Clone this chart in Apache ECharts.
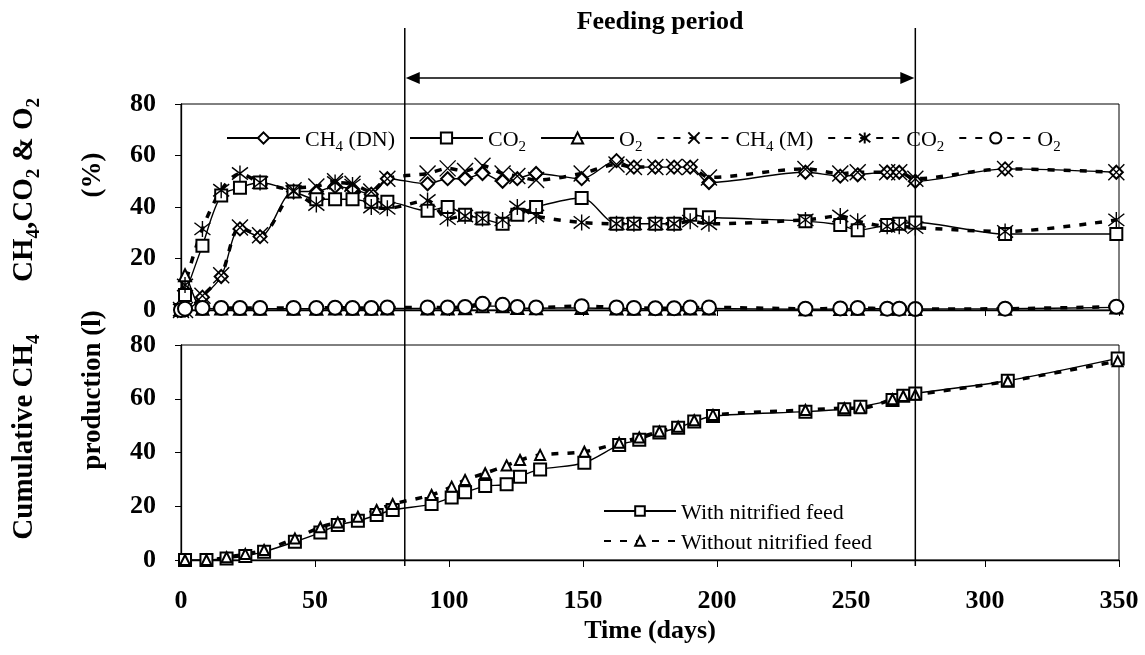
<!DOCTYPE html>
<html><head><meta charset="utf-8">
<script src="https://cdn.jsdelivr.net/npm/echarts@6/dist/echarts.min.js"></script>
<style>html,body{margin:0;padding:0;background:#fff}#c{width:1145px;height:655px}</style>
</head><body><div id="c"></div>
<script>
// ---------- data ----------
const xTickLabels = [0, 50, 100, 150, 200, 250, 300, 350];
const yTickLabels = [0, 20, 40, 60, 80];
const feedStart = 83.5, feedEnd = 274;

const daysTop = [0, 1.5, 8, 15, 22, 29.5, 42, 50.5, 57.5, 64, 71, 77, 92, 99.5, 106, 112.5, 120, 125.5, 132.5, 149.5, 162.5, 169, 177, 184, 190, 197, 233, 246, 252.5, 263.5, 268, 274, 307.5, 349];
const ch4DN = [0, 0, 5, 13, 31.5, 28.5, 46, 46, 48, 47, 45, 51, 49, 51, 51, 53, 50, 51, 53, 51, 58, 55.5, 55.5, 55.5, 55.5, 49.5, 53.5, 52, 52.5, 53.5, 53.5, 50, 54.8, 53.5];
const co2DN = [0, 5.8, 25, 44.5, 47.5, 49.5, 46, 43, 43, 43, 42, 42, 38.5, 40, 37, 35.5, 33.5, 37, 40, 43.5, 33.5, 33.5, 33.5, 33.5, 37, 36, 34.5, 33, 31, 33, 33.5, 34, 29.5, 29.5];
const o2DN  = [0, 13.5, 0.5, 0.6, 0.5, 0.5, 0.5, 0.5, 0.6, 0.5, 0.5, 0.6, 0.6, 0.6, 0.7, 1.5, 1.5, 0.8, 0.7, 0.8, 0.6, 0.5, 0.5, 0.5, 0.6, 0.6, 0.3, 0.4, 0.5, 0.5, 0.5, 0.4, 0.5, 1.0];
const ch4M  = [0, 0, 5.5, 13.5, 32, 29, 46.5, 48, 50, 49, 46, 51, 53, 55, 54, 56, 53, 52, 50.5, 53, 56.5, 55.5, 55.5, 55.5, 55.5, 51.5, 54.8, 53, 53.5, 53.5, 53.5, 51, 54.8, 53.5];
const co2M  = [0, 9.7, 31.5, 46.5, 53, 49.5, 46, 41, 49.5, 48.5, 40, 39.5, 42.5, 35.5, 36.5, 35.5, 35, 40, 36.5, 34, 33.5, 33.5, 33.5, 33.5, 34.5, 33.5, 35, 36.5, 34.5, 32.5, 32.5, 32, 30.5, 35];
const o2M   = [0, 0.5, 0.8, 0.8, 0.8, 0.8, 0.8, 0.8, 0.9, 0.8, 0.8, 1.0, 1.0, 1.0, 1.2, 2.4, 2.0, 1.2, 1.0, 1.5, 1.0, 0.8, 0.7, 0.7, 1.0, 1.0, 0.5, 0.6, 0.8, 0.5, 0.5, 0.4, 0.5, 1.3];

const daysCum = [1.5, 9.5, 17, 24, 31, 42.5, 52, 58.5, 66, 73, 79, 93.5, 101, 106, 113.5, 121.5, 126.5, 134, 150.5, 163.5, 171, 178.5, 185.5, 191.5, 198.5, 233, 247.5, 253.5, 265.5, 269.5, 274, 308.5, 349.5];
const cumWith    = [0, 0, 0.6, 1.5, 3.1, 6.8, 10.2, 13, 14.6, 16.7, 18.6, 20.8, 23.3, 25.2, 27.5, 28.2, 31, 33.7, 36.2, 42.8, 44.7, 47.4, 49.2, 51.5, 53.6, 55.2, 56.1, 57, 59.5, 61.1, 62, 66.7, 75];
const cumWithout = [0, 0, 1, 2.2, 3.7, 8, 12.2, 14, 16.1, 18.6, 20.8, 24.2, 27.3, 29.8, 32.3, 35.2, 37.2, 39.1, 40.3, 43.6, 45.6, 47.8, 49.6, 52, 54, 55.8, 56.5, 56.5, 59.8, 61, 61.5, 66.5, 74];

// ---------- helpers ----------
const FONT = 'Liberation Serif';
const zip = (xs, ys) => xs.map((x, i) => [x, ys[i]]);
const SYM_X = 'path://M0,0L10,10M10,0L0,10';
const SYM_AST = 'path://M0,0L10,10M10,0L0,10M5,-1.5L5,11.5';
const DASH = [7, 9];

function lineSeries(name, xi, data, symbol, size, dashed) {
  return {
    name, type: 'line', xAxisIndex: xi, yAxisIndex: xi, data,
    smooth: 0.3, symbol, symbolSize: size, showAllSymbol: true,
    lineStyle: { color: '#000', width: dashed ? 3.5 : 1.4, type: dashed ? DASH : 'solid' },
    itemStyle: { color: '#000', borderColor: '#000', borderWidth: 1.4 },
    emphasis: { disabled: true }
  };
}

const richLegend = {
  n: { fontFamily: FONT, fontSize: 22, color: '#000', lineHeight: 26, verticalAlign: 'bottom' },
  s: { fontFamily: FONT, fontSize: 15, color: '#000', lineHeight: 26, verticalAlign: 'bottom', padding: [0, 0, -4, 0] }
};
const legendFmt = {
  'CH4 (DN)': '{n|CH}{s|4}{n| (DN)}',
  'CO2 (DN)': '{n|CO}{s|2}',
  'O2 (DN)':  '{n|O}{s|2}',
  'CH4 (M)':  '{n|CH}{s|4}{n| (M)}',
  'CO2 (M)':  '{n|CO}{s|2}',
  'O2 (M)':   '{n|O}{s|2}',
  'With nitrified feed': '{n|With nitrified feed}',
  'Without nitrified feed': '{n|Without nitrified feed}'
};

const axisLabelStyle = { fontFamily: FONT, fontWeight: 'bold', fontSize: 26, color: '#000' };

const chart = echarts.init(document.getElementById('c'), null, { renderer: 'canvas' });

const option = {
  animation: false,
  backgroundColor: '#fff',
  grid: [
    { left: 181, top: 104, width: 938, height: 206, show: true, borderColor: '#000', borderWidth: 1 },
    { left: 181, top: 345, width: 938, height: 215, show: true, borderColor: '#000', borderWidth: 1 }
  ],
  xAxis: [
    { gridIndex: 0, type: 'value', min: 0, max: 350, interval: 50,
      axisLine: { show: true, onZero: false, lineStyle: { color: '#000', width: 1.3 } },
      axisTick: { show: true, length: 6, lineStyle: { color: '#000' } },
      axisLabel: { show: false }, splitLine: { show: false } },
    { gridIndex: 1, type: 'value', min: 0, max: 350, interval: 50,
      axisLine: { show: true, onZero: false, lineStyle: { color: '#000', width: 1.3 } },
      axisTick: { show: true, length: 7, lineStyle: { color: '#000' } },
      axisLabel: Object.assign({ margin: 28, formatter: v => xTickLabels.includes(v) ? String(v) : '' }, axisLabelStyle),
      splitLine: { show: false },
      name: 'Time (days)', nameLocation: 'middle', nameGap: 58,
      nameTextStyle: { fontFamily: FONT, fontWeight: 'bold', fontSize: 26, color: '#000' } }
  ],
  yAxis: [0, 1].map(i => ({
    gridIndex: i, type: 'value', min: 0, max: 80, interval: 20,
    axisLine: { show: true, lineStyle: { color: '#000', width: 1.3 } },
    axisTick: { show: true, length: 6, lineStyle: { color: '#000' } },
    axisLabel: Object.assign({ margin: 25, formatter: v => yTickLabels.includes(v) ? String(v) : '' }, axisLabelStyle),
    splitLine: { show: false }
  })),
  legend: [
    { data: ['CH4 (DN)', 'CO2 (DN)', 'O2 (DN)', 'CH4 (M)', 'CO2 (M)', 'O2 (M)'],
      left: 221, top: 124, orient: 'horizontal', itemWidth: 73, itemHeight: 14, itemGap: 14,
      formatter: n => legendFmt[n], textStyle: { rich: richLegend, color: '#000' }, selectedMode: false },
    { data: ['With nitrified feed', 'Without nitrified feed'],
      left: 598, top: 497, orient: 'vertical', itemWidth: 72, itemHeight: 12, itemGap: 8,
      formatter: n => legendFmt[n], textStyle: { rich: richLegend, color: '#000' }, selectedMode: false }
  ],
  series: [
    lineSeries('CH4 (DN)', 0, zip(daysTop, ch4DN), 'emptyDiamond', 13, false),
    lineSeries('CO2 (DN)', 0, zip(daysTop, co2DN), 'emptyRect', 12, false),
    lineSeries('O2 (DN)', 0, zip(daysTop, o2DN), 'emptyTriangle', 12, false),
    lineSeries('CH4 (M)', 0, zip(daysTop, ch4M), SYM_X, 16, true),
    lineSeries('CO2 (M)', 0, zip(daysTop, co2M), SYM_AST, 16, true),
    lineSeries('O2 (M)', 0, zip(daysTop, o2M), 'emptyCircle', 14, true),
    lineSeries('With nitrified feed', 1, zip(daysCum, cumWith), 'emptyRect', 12, false),
    lineSeries('Without nitrified feed', 1, zip(daysCum, cumWithout), 'emptyTriangle', 10, true)
  ]
};
chart.setOption(option);

// feeding period markers positioned from the x scale
const xs = chart.convertToPixel({ xAxisIndex: 1 }, feedStart);
const xe = chart.convertToPixel({ xAxisIndex: 1 }, feedEnd);
const yArrow = 78, ah = 14, aw = 6;
const richTitle = {
  b: { fontFamily: FONT, fontWeight: 'bold', fontSize: 29, fill: '#000', lineHeight: 34, verticalAlign: 'bottom' },
  s: { fontFamily: FONT, fontWeight: 'bold', fontSize: 19, fill: '#000', lineHeight: 34, verticalAlign: 'bottom', padding: [0, 0, -5, 0] }
};
chart.setOption({
  graphic: [
    { type: 'line', z: 100, shape: { x1: xs, y1: 28, x2: xs, y2: 566 }, style: { stroke: '#000', lineWidth: 1.5 } },
    { type: 'line', z: 100, shape: { x1: xe, y1: 28, x2: xe, y2: 566 }, style: { stroke: '#000', lineWidth: 1.5 } },
    { type: 'line', z: 100, shape: { x1: xs + ah, y1: yArrow, x2: xe - ah, y2: yArrow }, style: { stroke: '#000', lineWidth: 1.5 } },
    { type: 'polygon', z: 100, shape: { points: [[xs + 1, yArrow], [xs + ah + 1, yArrow - aw], [xs + ah + 1, yArrow + aw]] }, style: { fill: '#000' } },
    { type: 'polygon', z: 100, shape: { points: [[xe - 1, yArrow], [xe - ah - 1, yArrow - aw], [xe - ah - 1, yArrow + aw]] }, style: { fill: '#000' } },
    { type: 'text', z: 100, x: (xs + xe) / 2, y: 22,
      style: { text: 'Feeding period', font: 'bold 26px "Liberation Serif"', fill: '#000', align: 'center', verticalAlign: 'middle' } },
    { type: 'text', z: 100, x: 22, y: 190, rotation: Math.PI / 2,
      style: { text: '{b|CH}{s|4}{b|,CO}{s|2}{b| & O}{s|2}', align: 'center', verticalAlign: 'middle', rich: richTitle } },
    { type: 'text', z: 100, x: 93, y: 175, rotation: Math.PI / 2,
      style: { text: '(%)', font: 'bold 27px "Liberation Serif"', fill: '#000', align: 'center', verticalAlign: 'middle' } },
    { type: 'text', z: 100, x: 22, y: 437, rotation: Math.PI / 2,
      style: { text: '{b|Cumulative CH}{s|4}', align: 'center', verticalAlign: 'middle', rich: richTitle } },
    { type: 'text', z: 100, x: 93, y: 390, rotation: Math.PI / 2,
      style: { text: 'production (l)', font: 'bold 27px "Liberation Serif"', fill: '#000', align: 'center', verticalAlign: 'middle' } }
  ]
});
</script>
</body></html>
